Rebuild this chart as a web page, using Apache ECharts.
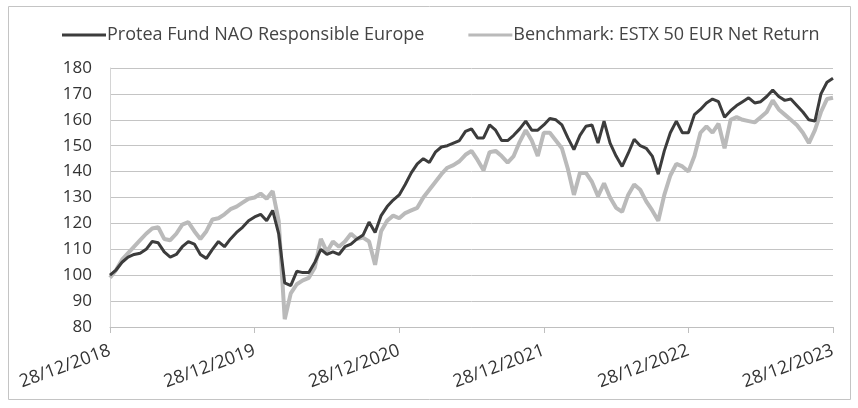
<!DOCTYPE html>
<html>
<head>
<meta charset="utf-8">
<script src="https://cdn.jsdelivr.net/npm/echarts@6/dist/echarts.min.js"></script>
<style>
html,body{margin:0;padding:0;background:#fff;}
#chart{width:858px;height:408px;}
</style>
</head>
<body>
<div id="chart"></div>
<script>
// Year tick labels (one every 24 points)
var yearLabels = ['28/12/2018','28/12/2019','28/12/2020','28/12/2021','28/12/2022','28/12/2023'];
var pointsPerYear = 24;

var seriesNames = ['Protea Fund NAO Responsible Europe', 'Benchmark: ESTX 50 EUR Net Return'];

var fund = [
  100,102,105,107,108,108.5,110,113,112.5,109,107,108,111,113,112,108,106.5,110,113,111,114,116.5,118.5,121,
  122.5,123.5,121,125,116,97,96,101.5,101,101,105,110,108,109,108,111,112,114,115.5,120.5,116.5,123,126.5,129,
  131,135,139.5,143,145,143.5,147.5,149.5,150,151,152,155.5,156.5,153,153,158,156,152,152,154,156.5,159.5,156,156,
  158,160.5,160,158,153,148.5,154,157.5,158,151,159.5,151,146,142,147,152.5,150,149,146,139,148,155,159.5,155,
  155,162,164,166.5,168,167,161,163.5,165.5,167,168.5,166.5,167,169,171.5,169,167.5,168,165.5,163,160,159.5,170,174.5,176
];

var bench = [
  99,102,106,108.5,111,113.5,116,118,118.5,114,113.5,116,119.5,120.5,117,114,117,121.5,122,123.5,125.5,126.5,128,129.5,
  130,131.5,129.5,132.5,121,83,93,96.5,98,99,103,114,109,113,111,113,116,114,114.5,113,104,117,121,123,
  122,124,125,126,130,133,136,139,141.5,142.5,144,146.5,148,144.5,140.5,147.5,148,146,143.5,146,151.5,156,152,146,
  155,155,152,149,141,131,139.5,139.5,136,130.5,135.5,130,126,124.5,131,135,133,128.5,125,121,131,138.5,143,142,
  140,146,155,157.5,155,158.5,149,160,161,160,159.5,159,161,163,167.5,164,162,160,158,155,151,156,163,168,168.5
];

var categories = fund.map(function (v, i) {
  return i % pointsPerYear === 0 ? yearLabels[i / pointsPerYear] : '';
});

var chart = echarts.init(document.getElementById('chart'));
chart.setOption({
  animation: false,
  backgroundColor: '#fff',
  graphic: [{
    type: 'rect',
    shape: {x: 8.5, y: 6.5, width: 842, height: 393},
    style: {fill: 'none', stroke: '#c4c4c4', lineWidth: 1},
    silent: true
  }],
  legend: {
    top: 21,
    left: 57,
    itemWidth: 44,
    itemHeight: 3,
    itemGap: 44,
    icon: 'rect',
    textStyle: {fontFamily: 'Open Sans', fontSize: 18, color: '#444', padding: [0,0,0,-4]},
    data: seriesNames
  },
  grid: {left: 110, right: 25, top: 68, bottom: 81},
  xAxis: {
    type: 'category',
    boundaryGap: false,
    data: categories,
    axisLine: {lineStyle: {color: '#bfbfbf', width: 1}},
    axisTick: {show: true, interval: pointsPerYear - 1, length: 6, lineStyle: {color: '#bfbfbf'}},
    axisLabel: {
      interval: pointsPerYear - 1,
      rotate: 20,
      margin: 23,
      fontFamily: 'Open Sans',
      fontSize: 18,
      color: '#333'
    },
    splitLine: {show: false}
  },
  yAxis: {
    type: 'value',
    min: 80,
    max: 180,
    interval: 10,
    axisLine: {show: true, lineStyle: {color: '#d4d4d4'}},
    axisTick: {show: false},
    axisLabel: {fontFamily: 'Open Sans', fontSize: 17, color: '#333', margin: 18},
    splitLine: {lineStyle: {color: '#c4c4c4', width: 1}}
  },
  series: [
    {
      name: seriesNames[0],
      type: 'line',
      data: fund,
      symbol: 'none',
      smooth: false,
      lineStyle: {color: '#3c3c3c', width: 3},
      itemStyle: {color: '#3c3c3c'},
      z: 3
    },
    {
      name: seriesNames[1],
      type: 'line',
      data: bench,
      symbol: 'none',
      smooth: false,
      lineStyle: {color: '#bababa', width: 4},
      itemStyle: {color: '#bababa'},
      z: 2
    }
  ]
});
</script>
</body>
</html>
